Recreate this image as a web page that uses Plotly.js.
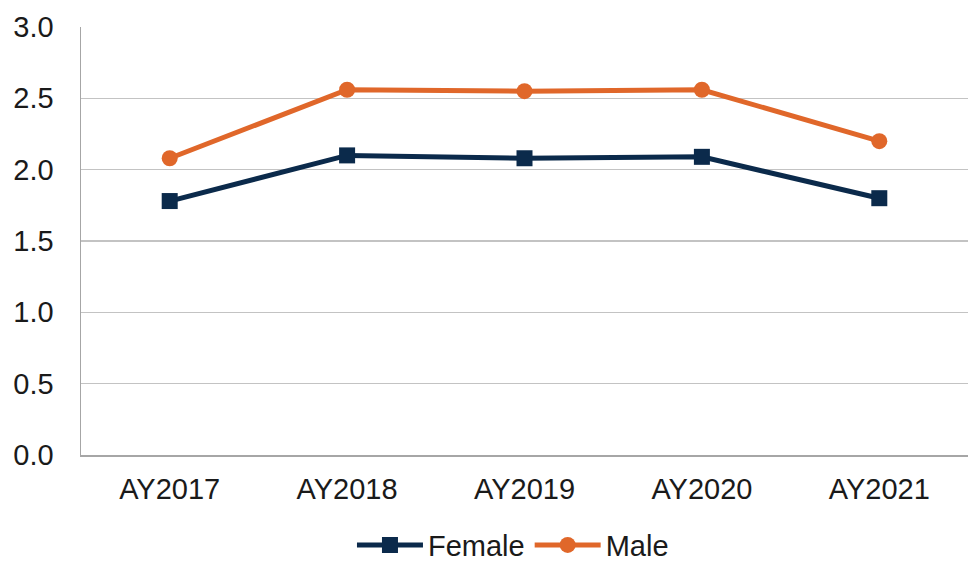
<!DOCTYPE html>
<html>
<head>
<meta charset="utf-8">
<script src="https://cdn.plot.ly/plotly-3.0.1.min.js"></script>
<style>html,body{margin:0;padding:0;background:#fff;}#chart{width:970px;height:564px;}</style>
</head>
<body>
<div id="chart"></div>
<script>
var categories = ["AY2017", "AY2018", "AY2019", "AY2020", "AY2021"];
var femaleValues = [1.78, 2.10, 2.08, 2.09, 1.80];
var maleValues = [2.08, 2.56, 2.55, 2.56, 2.20];
var yTickValues = [0, 0.5, 1.0, 1.5, 2.0, 2.5, 3.0];
var yTickLabels = ["0.0", "0.5", "1.0", "1.5", "2.0", "2.5", "3.0"];

var navy = "#0b2a4b";
var orange = "#e0672a";

var traces = [
  {x: categories, y: femaleValues, name: "Female", type: "scatter", mode: "lines+markers",
   line: {color: navy, width: 5}, marker: {symbol: "square", size: 16, color: navy}},
  {x: categories, y: maleValues, name: "Male", type: "scatter", mode: "lines+markers",
   line: {color: orange, width: 5}, marker: {symbol: "circle", size: 16, color: orange}}
];

var layout = {
  width: 970, height: 564,
  margin: {l: 81, r: 2, t: 27, b: 109, autoexpand: false},
  paper_bgcolor: "#fff", plot_bgcolor: "#fff",
  font: {family: "Liberation Sans, Arial, sans-serif", size: 29, color: "#1a1a1a"},
  showlegend: true,
  legend: {orientation: "h", x: 0.487, xanchor: "center", y: -0.27, yanchor: "bottom",
           font: {size: 29, color: "#1a1a1a"}, itemwidth: 66, traceorder: "normal"},
  xaxis: {type: "category", showgrid: false, showline: true, linecolor: "#a6a6a6", linewidth: 1.5,
          ticks: "", ticklen: 0, tickfont: {size: 29}, ticklabelstandoff: 8, range: [-0.5, 4.5], fixedrange: true},
  yaxis: {range: [0, 3.0], tickvals: yTickValues, ticktext: yTickLabels, showgrid: true,
          gridcolor: "#c3c3c3", gridwidth: 1.5, showline: true, linecolor: "#a6a6a6", linewidth: 1.5,
          zeroline: false, ticks: "", tickfont: {size: 29}, ticklabelstandoff: 20, fixedrange: true}
};

Plotly.newPlot("chart", traces, layout, {displayModeBar: false, staticPlot: true});
</script>
</body>
</html>
